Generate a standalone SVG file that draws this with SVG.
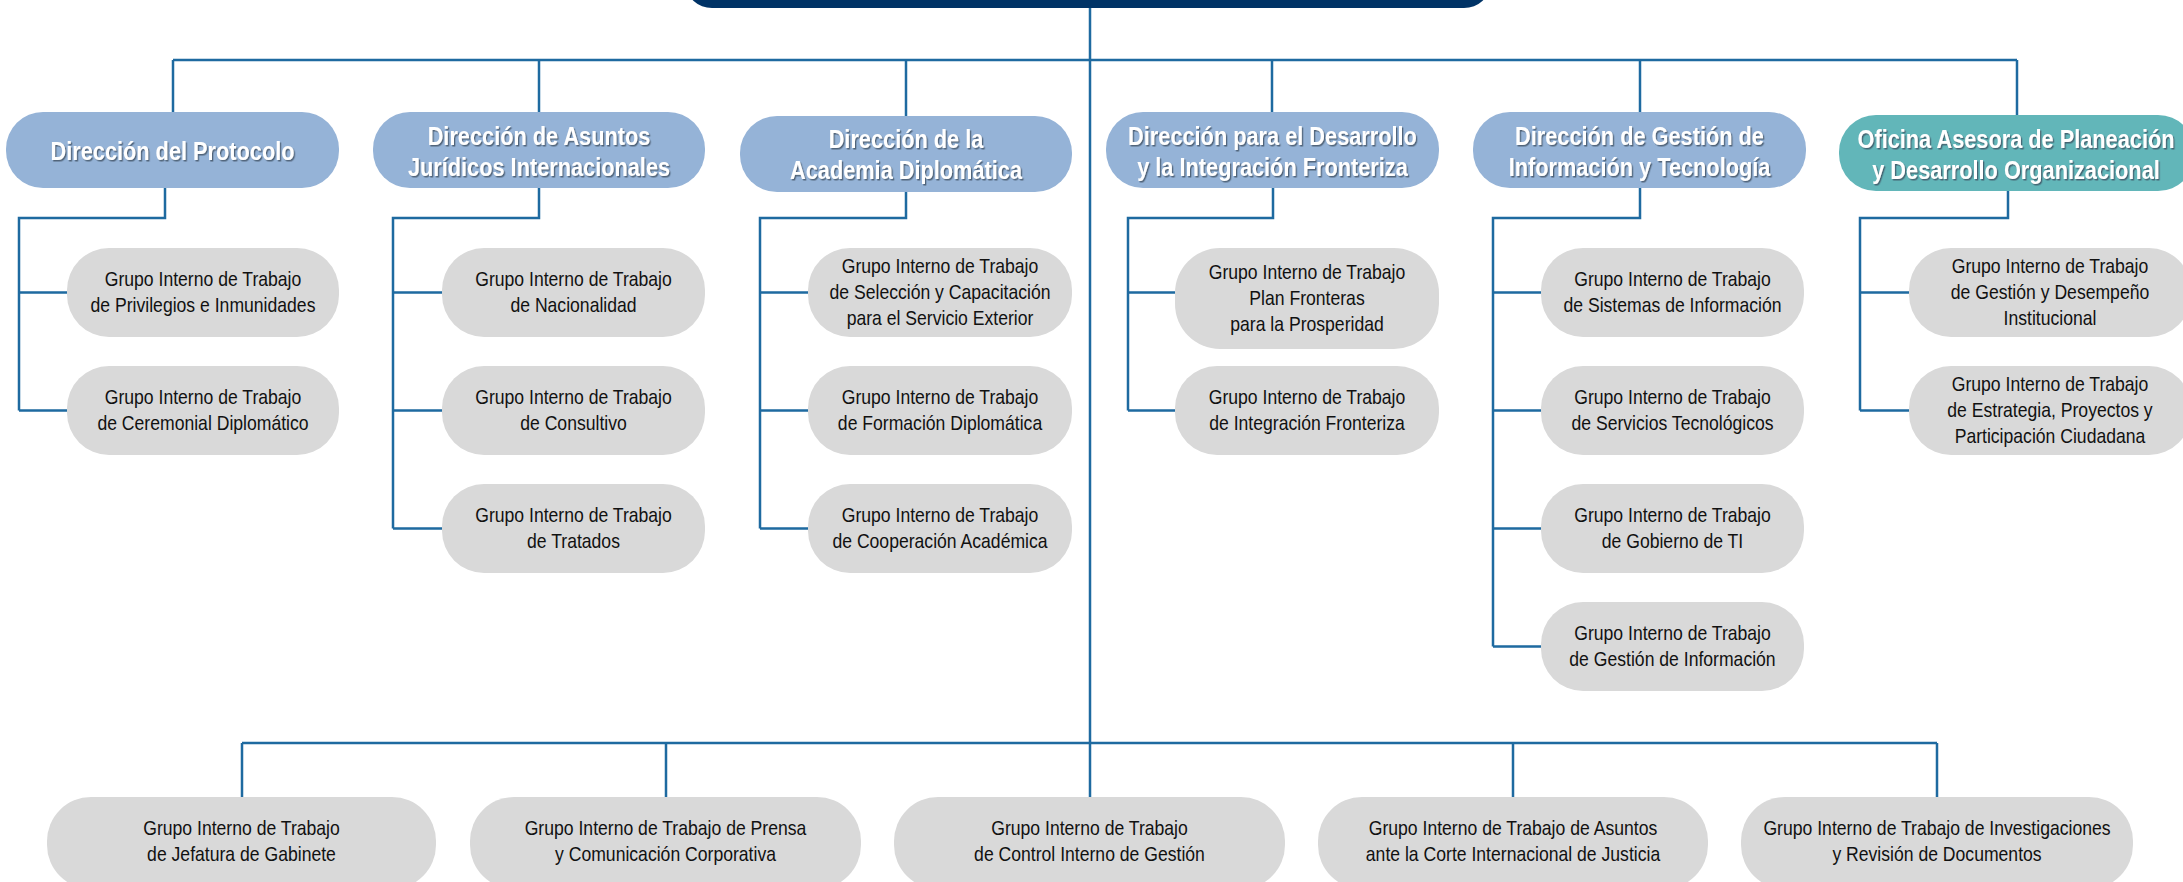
<svg xmlns="http://www.w3.org/2000/svg" width="2183" height="882" viewBox="0 0 2183 882">
<defs>
<filter id="ts" x="-10%" y="-30%" width="120%" height="160%">
<feDropShadow dx="1.5" dy="1.5" stdDeviation="0.7" flood-color="#3a4a5c" flood-opacity="0.75"/>
</filter>
<style>
.hdr{fill:#95B3D7}
.ofi{fill:#62B6B9}
.grp{fill:#D9D9D9}
.top{fill:#003366}
.ht{font-family:"Liberation Sans",Arial,sans-serif;font-weight:bold;font-size:25px;fill:#FFFFFF;text-anchor:middle;filter:url(#ts)}
.gt{font-family:"Liberation Sans",Arial,sans-serif;font-size:20px;fill:#111111;text-anchor:middle}
.cn{fill:none;stroke:#1E6AA0;stroke-width:2.5}
</style>
</defs>
<rect width="2183" height="882" fill="#FFFFFF"/>

<g id="connectors" class="cn">
<path d="M173,60 H2017"/>
<path d="M173,60 V112"/>
<path d="M539,60 V112"/>
<path d="M906,60 V116"/>
<path d="M1272,60 V112"/>
<path d="M1640,60 V112"/>
<path d="M2017,60 V115"/>
<path d="M1090,8 V743"/>
<path d="M165,188 V218 H19 V410.5 M19,292.5 H67 M19,410.5 H67"/>
<path d="M539,188 V218 H393 V528.5 M393,292.5 H442 M393,410.5 H442 M393,528.5 H442"/>
<path d="M906,192 V218 H760 V528.5 M760,292.5 H808 M760,410.5 H808 M760,528.5 H808"/>
<path d="M1273,188 V218 H1128 V410.5 M1128,292.5 H1175 M1128,410.5 H1175"/>
<path d="M1640,188 V218 H1493 V646.5 M1493,292.5 H1541 M1493,410.5 H1541 M1493,528.5 H1541 M1493,646.5 H1541"/>
<path d="M2008,191 V218 H1860 V410.5 M1860,292.5 H1909 M1860,410.5 H1909"/>
<path d="M242,743 H1937 M242,743 V797 M666,743 V797 M1090,743 V797 M1513,743 V797 M1937,743 V797"/>
</g>

<g id="top">
<rect class="top" x="686" y="-40" width="804" height="48" rx="26"/>
</g>

<g id="h-protocolo">
<rect class="hdr" x="6" y="112" width="333" height="76" rx="37"/>
<text class="ht" transform="translate(172.5,0) scale(0.87,1)"><tspan x="0" y="160">Dirección del Protocolo</tspan></text>
</g>
<g id="h-asuntos">
<rect class="hdr" x="373" y="112" width="332" height="76" rx="37"/>
<text class="ht" transform="translate(539,0) scale(0.87,1)"><tspan x="0" y="145">Dirección de Asuntos</tspan><tspan x="0" y="176">Jurídicos Internacionales</tspan></text>
</g>
<g id="h-academia">
<rect class="hdr" x="740" y="116" width="332" height="76" rx="37"/>
<text class="ht" transform="translate(906,0) scale(0.87,1)"><tspan x="0" y="148">Dirección de la</tspan><tspan x="0" y="179">Academia Diplomática</tspan></text>
</g>
<g id="h-desarrollo">
<rect class="hdr" x="1106" y="112" width="333" height="76" rx="37"/>
<text class="ht" transform="translate(1272.5,0) scale(0.87,1)"><tspan x="0" y="145">Dirección para el Desarrollo</tspan><tspan x="0" y="176">y la Integración Fronteriza</tspan></text>
</g>
<g id="h-gestion">
<rect class="hdr" x="1473" y="112" width="333" height="76" rx="37"/>
<text class="ht" transform="translate(1639.5,0) scale(0.87,1)"><tspan x="0" y="145">Dirección de Gestión de</tspan><tspan x="0" y="176">Información y Tecnología</tspan></text>
</g>
<g id="h-oficina">
<rect class="ofi" x="1839" y="115" width="356" height="76" rx="37"/>
<text class="ht" transform="translate(2016,0) scale(0.87,1)"><tspan x="0" y="148">Oficina Asesora de Planeación</tspan><tspan x="0" y="179">y Desarrollo Organizacional</tspan></text>
</g>

<g id="g-privilegios">
<rect class="grp" x="67" y="248" width="272" height="89" rx="42"/>
<text class="gt" transform="translate(203,0) scale(0.88,1)"><tspan x="0" y="286.5">Grupo Interno de Trabajo</tspan><tspan x="0" y="312.5">de Privilegios e Inmunidades</tspan></text>
</g>
<g id="g-ceremonial">
<rect class="grp" x="67" y="366" width="272" height="89" rx="42"/>
<text class="gt" transform="translate(203,0) scale(0.88,1)"><tspan x="0" y="404.5">Grupo Interno de Trabajo</tspan><tspan x="0" y="430.5">de Ceremonial Diplomático</tspan></text>
</g>

<g id="g-nacionalidad">
<rect class="grp" x="442" y="248" width="263" height="89" rx="42"/>
<text class="gt" transform="translate(573.5,0) scale(0.88,1)"><tspan x="0" y="286.5">Grupo Interno de Trabajo</tspan><tspan x="0" y="312.5">de Nacionalidad</tspan></text>
</g>
<g id="g-consultivo">
<rect class="grp" x="442" y="366" width="263" height="89" rx="42"/>
<text class="gt" transform="translate(573.5,0) scale(0.88,1)"><tspan x="0" y="404.5">Grupo Interno de Trabajo</tspan><tspan x="0" y="430.5">de Consultivo</tspan></text>
</g>
<g id="g-tratados">
<rect class="grp" x="442" y="484" width="263" height="89" rx="42"/>
<text class="gt" transform="translate(573.5,0) scale(0.88,1)"><tspan x="0" y="522.5">Grupo Interno de Trabajo</tspan><tspan x="0" y="548.5">de Tratados</tspan></text>
</g>

<g id="g-seleccion">
<rect class="grp" x="808" y="248" width="264" height="89" rx="42"/>
<text class="gt" transform="translate(940,0) scale(0.88,1)"><tspan x="0" y="273.5">Grupo Interno de Trabajo</tspan><tspan x="0" y="299.5">de Selección y Capacitación</tspan><tspan x="0" y="325.5">para el Servicio Exterior</tspan></text>
</g>
<g id="g-formacion">
<rect class="grp" x="808" y="366" width="264" height="89" rx="42"/>
<text class="gt" transform="translate(940,0) scale(0.88,1)"><tspan x="0" y="404.5">Grupo Interno de Trabajo</tspan><tspan x="0" y="430.5">de Formación Diplomática</tspan></text>
</g>
<g id="g-cooperacion">
<rect class="grp" x="808" y="484" width="264" height="89" rx="42"/>
<text class="gt" transform="translate(940,0) scale(0.88,1)"><tspan x="0" y="522.5">Grupo Interno de Trabajo</tspan><tspan x="0" y="548.5">de Cooperación Académica</tspan></text>
</g>

<g id="g-fronteras">
<rect class="grp" x="1175" y="248" width="264" height="101" rx="45"/>
<text class="gt" transform="translate(1307,0) scale(0.88,1)"><tspan x="0" y="279.5">Grupo Interno de Trabajo</tspan><tspan x="0" y="305.5">Plan Fronteras</tspan><tspan x="0" y="331.5">para la Prosperidad</tspan></text>
</g>
<g id="g-integracion">
<rect class="grp" x="1175" y="366" width="264" height="89" rx="42"/>
<text class="gt" transform="translate(1307,0) scale(0.88,1)"><tspan x="0" y="404.5">Grupo Interno de Trabajo</tspan><tspan x="0" y="430.5">de Integración Fronteriza</tspan></text>
</g>

<g id="g-sistemas">
<rect class="grp" x="1541" y="248" width="263" height="89" rx="42"/>
<text class="gt" transform="translate(1672.5,0) scale(0.88,1)"><tspan x="0" y="286.5">Grupo Interno de Trabajo</tspan><tspan x="0" y="312.5">de Sistemas de Información</tspan></text>
</g>
<g id="g-servicios">
<rect class="grp" x="1541" y="366" width="263" height="89" rx="42"/>
<text class="gt" transform="translate(1672.5,0) scale(0.88,1)"><tspan x="0" y="404.5">Grupo Interno de Trabajo</tspan><tspan x="0" y="430.5">de Servicios Tecnológicos</tspan></text>
</g>
<g id="g-gobierno">
<rect class="grp" x="1541" y="484" width="263" height="89" rx="42"/>
<text class="gt" transform="translate(1672.5,0) scale(0.88,1)"><tspan x="0" y="522.5">Grupo Interno de Trabajo</tspan><tspan x="0" y="548.5">de Gobierno de TI</tspan></text>
</g>
<g id="g-gestioninfo">
<rect class="grp" x="1541" y="602" width="263" height="89" rx="42"/>
<text class="gt" transform="translate(1672.5,0) scale(0.88,1)"><tspan x="0" y="640.5">Grupo Interno de Trabajo</tspan><tspan x="0" y="666.5">de Gestión de Información</tspan></text>
</g>

<g id="g-desempeno">
<rect class="grp" x="1909" y="248" width="282" height="89" rx="42"/>
<text class="gt" transform="translate(2050,0) scale(0.88,1)"><tspan x="0" y="273.5">Grupo Interno de Trabajo</tspan><tspan x="0" y="299.5">de Gestión y Desempeño</tspan><tspan x="0" y="325.5">Institucional</tspan></text>
</g>
<g id="g-estrategia">
<rect class="grp" x="1909" y="366" width="282" height="89" rx="42"/>
<text class="gt" transform="translate(2050,0) scale(0.88,1)"><tspan x="0" y="391.5">Grupo Interno de Trabajo</tspan><tspan x="0" y="417.5">de Estrategia, Proyectos y</tspan><tspan x="0" y="443.5">Participación Ciudadana</tspan></text>
</g>

<g id="b-gabinete">
<rect class="grp" x="47" y="797" width="389" height="92" rx="44"/>
<text class="gt" transform="translate(241.5,0) scale(0.88,1)"><tspan x="0" y="835.5">Grupo Interno de Trabajo</tspan><tspan x="0" y="861.5">de Jefatura de Gabinete</tspan></text>
</g>
<g id="b-prensa">
<rect class="grp" x="470" y="797" width="391" height="92" rx="44"/>
<text class="gt" transform="translate(665.5,0) scale(0.88,1)"><tspan x="0" y="835.5">Grupo Interno de Trabajo de Prensa</tspan><tspan x="0" y="861.5">y Comunicación Corporativa</tspan></text>
</g>
<g id="b-control">
<rect class="grp" x="894" y="797" width="391" height="92" rx="44"/>
<text class="gt" transform="translate(1089.5,0) scale(0.88,1)"><tspan x="0" y="835.5">Grupo Interno de Trabajo</tspan><tspan x="0" y="861.5">de Control Interno de Gestión</tspan></text>
</g>
<g id="b-corte">
<rect class="grp" x="1318" y="797" width="390" height="92" rx="44"/>
<text class="gt" transform="translate(1513,0) scale(0.88,1)"><tspan x="0" y="835.5">Grupo Interno de Trabajo de Asuntos</tspan><tspan x="0" y="861.5">ante la Corte Internacional de Justicia</tspan></text>
</g>
<g id="b-investigaciones">
<rect class="grp" x="1741" y="797" width="392" height="92" rx="44"/>
<text class="gt" transform="translate(1937,0) scale(0.88,1)"><tspan x="0" y="835.5">Grupo Interno de Trabajo de Investigaciones</tspan><tspan x="0" y="861.5">y Revisión de Documentos</tspan></text>
</g>
</svg>
